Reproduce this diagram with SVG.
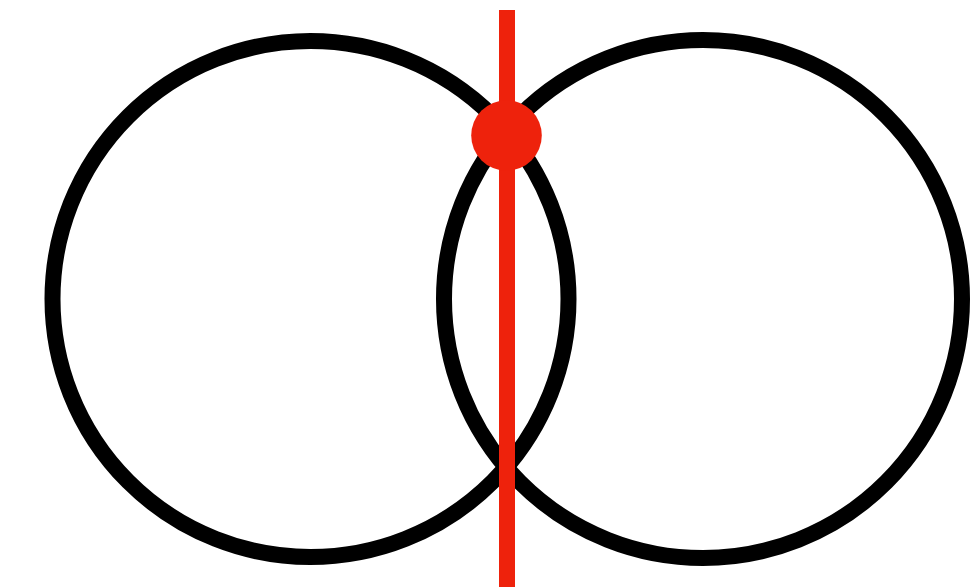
<svg xmlns="http://www.w3.org/2000/svg" width="974" height="587" viewBox="0 0 974 587">
<style>
.ring{fill:none;stroke:#000;stroke-width:16}
.red{fill:#EE220C}
</style>
<rect width="974" height="587" fill="#fff"/>
<g id="circle-left"><circle class="ring" cx="310.5" cy="299" r="258"/></g>
<g id="circle-right"><circle class="ring" cx="703" cy="299" r="259"/></g>
<g id="connectors"><rect class="red" x="499" y="10" width="16" height="577"/></g>
<g id="dot"><circle class="red" cx="506.5" cy="135.5" r="35.3"/></g>
</svg>
